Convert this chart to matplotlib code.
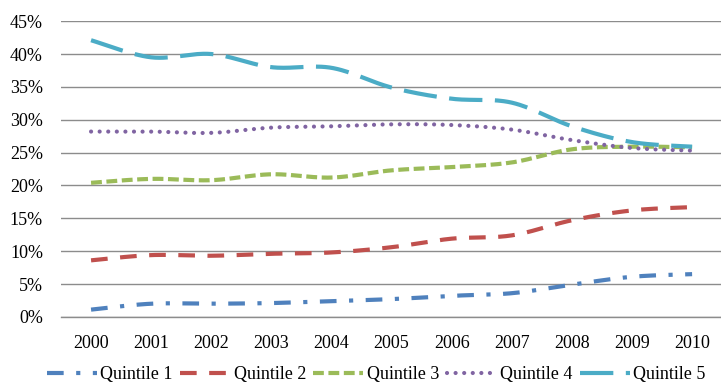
import numpy as np
import matplotlib
matplotlib.use("Agg")
import matplotlib.pyplot as plt
from matplotlib.ticker import FuncFormatter, MultipleLocator

years = ["2000", "2001", "2002", "2003", "2004", "2005",
         "2006", "2007", "2008", "2009", "2010"]

quintile_1 = [1.1, 2.0, 2.0, 2.1, 2.4, 2.7, 3.2, 3.6, 4.9, 6.1, 6.5]
quintile_2 = [8.6, 9.4, 9.3, 9.6, 9.8, 10.6, 11.9, 12.4, 14.7, 16.2, 16.7]
quintile_3 = [20.4, 21.0, 20.8, 21.7, 21.2, 22.3, 22.8, 23.5, 25.5, 25.9, 25.8]
quintile_4 = [28.2, 28.2, 28.0, 28.8, 29.0, 29.3, 29.2, 28.5, 26.9, 25.7, 25.3]
quintile_5 = [42.1, 39.5, 40.0, 38.0, 37.9, 34.9, 33.2, 32.6, 29.0, 26.6, 25.9]

series_names = ["Quintile 1", "Quintile 2", "Quintile 3", "Quintile 4", "Quintile 5"]
series_values = [quintile_1, quintile_2, quintile_3, quintile_4, quintile_5]
colors = ["#4F81BD", "#C0504D", "#9BBB59", "#8064A2", "#4BACC6"]
# dash patterns in units of the line width
dashes = [
    (4, 3, 1, 3),      # dash dot
    (4, 3),            # dash
    (2.6, 1.1),        # short dash
    (0.01, 2.05),      # round dots
    (8, 3),            # long dash
]
caps = ["butt", "butt", "butt", "round", "butt"]
LW = 3.0


def smooth(x, y, n=30):
    """Bezier curve through the points with 1/6 tangent handles."""
    x = np.asarray(x, float)
    y = np.asarray(y, float)
    P = np.column_stack([x, y])
    m = len(P)
    xs, ys = [], []
    t = np.linspace(0, 1, n, endpoint=False)[:, None]
    for i in range(m - 1):
        p0 = P[i - 1] if i > 0 else P[i]
        p1, p2 = P[i], P[i + 1]
        p3 = P[i + 2] if i + 2 < m else P[i + 1]
        c1 = p1 + (p2 - p0) / 6
        c2 = p2 - (p3 - p1) / 6
        pts = ((1 - t) ** 3 * p1 + 3 * (1 - t) ** 2 * t * c1
               + 3 * (1 - t) * t ** 2 * c2 + t ** 3 * p2)
        xs.extend(pts[:, 0])
        ys.extend(pts[:, 1])
    xs.append(x[-1])
    ys.append(y[-1])
    return np.array(xs), np.array(ys)


plt.rcParams["font.family"] = ["Liberation Serif", "DejaVu Serif"]

fig = plt.figure(figsize=(7.21, 3.85), dpi=100)
ax = fig.add_axes([0.0846, 0.177, 0.917, 0.768])

xpos = np.arange(len(years))
for name, vals, col, dsh, cap in zip(series_names, series_values, colors, dashes, caps):
    sx, sy = smooth(xpos, vals)
    ax.plot(sx, sy, color=col, lw=LW, dashes=dsh, dash_capstyle=cap,
            solid_capstyle="butt", label=name)

ax.set_xlim(-0.5, len(years) - 0.5)
ax.set_ylim(0, 45)
ax.yaxis.set_major_locator(MultipleLocator(5))
ax.yaxis.set_major_formatter(FuncFormatter(lambda v, p: f"{v:.0f}%"))
ax.set_xticks(xpos)
ax.set_xticklabels(years)
ax.grid(axis="y", color="#8C8C8C", lw=1.0)
ax.set_axisbelow(True)
for s in ["top", "right", "left"]:
    ax.spines[s].set_visible(False)
ax.spines["bottom"].set_color("#8C8C8C")
ax.spines["bottom"].set_linewidth(1.0)
ax.tick_params(axis="both", length=0, labelsize=13, colors="#000000")
ax.tick_params(axis="x", pad=13)
ax.tick_params(axis="y", pad=13)

leg = fig.legend(loc="lower center", bbox_to_anchor=(0.522, -0.038), ncol=5,
                 frameon=False, fontsize=13, handlelength=2.77,
                 handletextpad=0.2, columnspacing=0.4)

fig.savefig("out.png", dpi=100)
